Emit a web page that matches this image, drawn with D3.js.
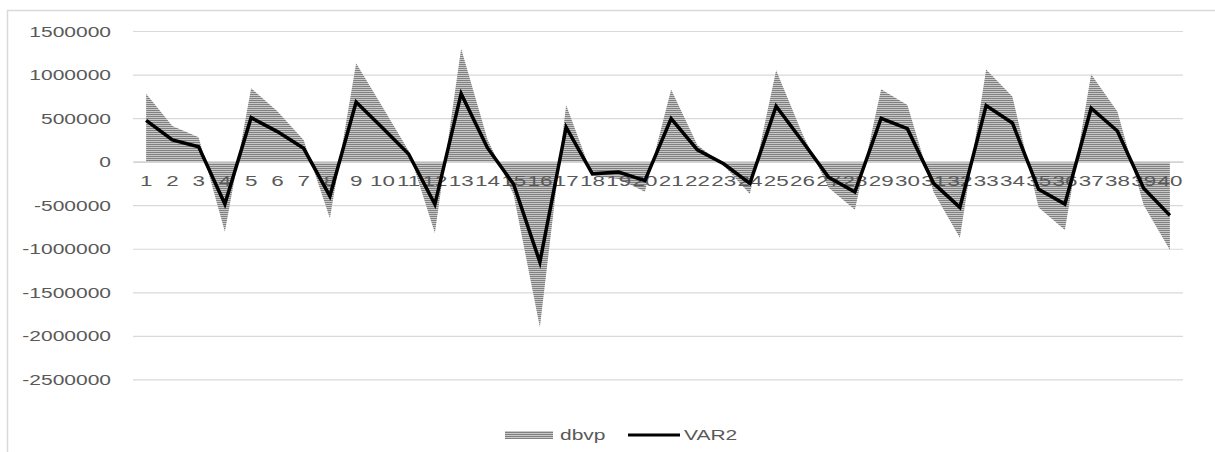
<!DOCTYPE html>
<html>
<head>
<meta charset="utf-8">
<script src="https://cdn.jsdelivr.net/npm/d3@7"></script>
<style>
  html, body { margin: 0; padding: 0; background: #fff; }
  svg { display: block; }
  text { font-family: "Liberation Sans", Arial, sans-serif; fill: #595959; }
</style>
</head>
<body>
<svg id="chart" width="1215" height="452"></svg>
<script>
// Categories 1..40
const categories = d3.range(1, 41).map(String);

// Series values
const dbvp = [780000, 410000, 280000, -805000, 843000, 580000, 250000, -651000,
  1130000, 630000, 125000, -820000, 1300000, 260000, -380000, -1900000,
  650000, -160000, -200000, -345000, 827000, 190000, -40000, -370000,
  1050000, 320000, -300000, -552000, 831000, 651000, -350000, -873000,
  1057000, 747000, -525000, -785000, 1004000, 575000, -498000, -1015000];

const var2 = [475000, 249000, 170000, -487000, 505000, 345000, 153000, -395000,
  685000, 390000, 88000, -490000, 781000, 160000, -260000, -1153000,
  395000, -140000, -119000, -218000, 494000, 135000, -25000, -250000,
  636000, 235000, -180000, -349000, 498000, 379000, -249000, -525000,
  644000, 444000, -318000, -487000, 613000, 352000, -306000, -617000];

// Value axis ticks
const yTicks = [1500000, 1000000, 500000, 0, -500000, -1000000, -1500000, -2000000, -2500000];

const seriesNames = ["dbvp", "VAR2"];

const svg = d3.select("#chart");
const W = 1215, H = 452;
const plot = { left: 133, right: 1183, top: 31, bottom: 379.4 };
const stretch = 1.5; // horizontal stretch of all labels

// Outer chart frame (left and top edges)
svg.append("path")
  .attr("d", `M7.5,${H} L7.5,10.5 L${W},10.5`)
  .attr("fill", "none").attr("stroke", "#d9d9d9").attr("stroke-width", 1.5);

// Horizontal-stripe pattern for the area series
const defs = svg.append("defs");
const pat = defs.append("pattern")
  .attr("id", "hstripe").attr("patternUnits", "userSpaceOnUse")
  .attr("width", 8).attr("height", 2);
pat.append("rect").attr("width", 8).attr("height", 2).attr("fill", "#c8c8c8");
pat.append("rect").attr("width", 8).attr("height", 1).attr("fill", "#808080");

const x = d3.scaleBand().domain(categories).range([plot.left, plot.right]).padding(0);
const cx = c => x(c) + x.bandwidth() / 2;
const y = d3.scaleLinear().domain([-2500000, 1500000]).range([plot.bottom, plot.top]);

// Gridlines + value labels (plain hyphen for negatives)
const yAxis = d3.axisLeft(y)
  .tickValues(yTicks)
  .tickSize(-(plot.right - plot.left))
  .tickPadding(0)
  .tickFormat(d => String(d));

const gy = svg.append("g").attr("transform", `translate(${plot.left},0)`).call(yAxis);
gy.select(".domain").remove();
gy.selectAll(".tick line").attr("stroke", "#d9d9d9").attr("stroke-width", 1.2);
gy.selectAll(".tick text")
  .attr("x", -22 / stretch)
  .attr("dy", "0.36em")
  .attr("transform", `scale(${stretch},1)`)
  .style("font-size", "14px")
  .attr("fill", "#5f5f5f");

// Area series (dbvp)
const rows = categories.map((c, i) => ({ c, a: dbvp[i], b: var2[i] }));
const area = d3.area().x(d => cx(d.c)).y0(y(0)).y1(d => y(d.a));
svg.append("path").datum(rows)
  .attr("d", area)
  .attr("fill", "url(#hstripe)");

// Category axis at zero
const xAxis = d3.axisBottom(x).tickSize(0).tickPadding(0);
const gx = svg.append("g").attr("transform", `translate(0,${y(0)})`).call(xAxis);
gx.select(".domain").attr("stroke", "#d0d0d0").attr("stroke-width", 1.2);
gx.selectAll(".tick text")
  .attr("y", 0).attr("dy", 0)
  .attr("transform", `translate(0,24.5) scale(1.6,1)`)
  .style("font-size", "14px")
  .attr("fill", "#5f5f5f");

// Line series (VAR2)
const line = d3.line().x(d => cx(d.c)).y(d => y(d.b));
svg.append("path").datum(rows)
  .attr("d", line)
  .attr("fill", "none")
  .attr("stroke", "#000")
  .attr("stroke-width", 3.5)
  .attr("stroke-linejoin", "miter");

// Legend
const lg = svg.append("g");
lg.append("rect").attr("x", 505).attr("y", 431).attr("width", 48).attr("height", 8)
  .attr("fill", "url(#hstripe)");
lg.append("text").attr("x", 0).attr("y", 0)
  .attr("transform", `translate(560,440) scale(${stretch},1)`)
  .style("font-size", "14px").attr("fill", "#5f5f5f").text(seriesNames[0]);
lg.append("line").attr("x1", 628).attr("x2", 680).attr("y1", 435).attr("y2", 435)
  .attr("stroke", "#000").attr("stroke-width", 3);
lg.append("text").attr("x", 0).attr("y", 0)
  .attr("transform", `translate(684,440) scale(${stretch},1)`)
  .style("font-size", "14px").attr("fill", "#5f5f5f").text(seriesNames[1]);
</script>
</body>
</html>
